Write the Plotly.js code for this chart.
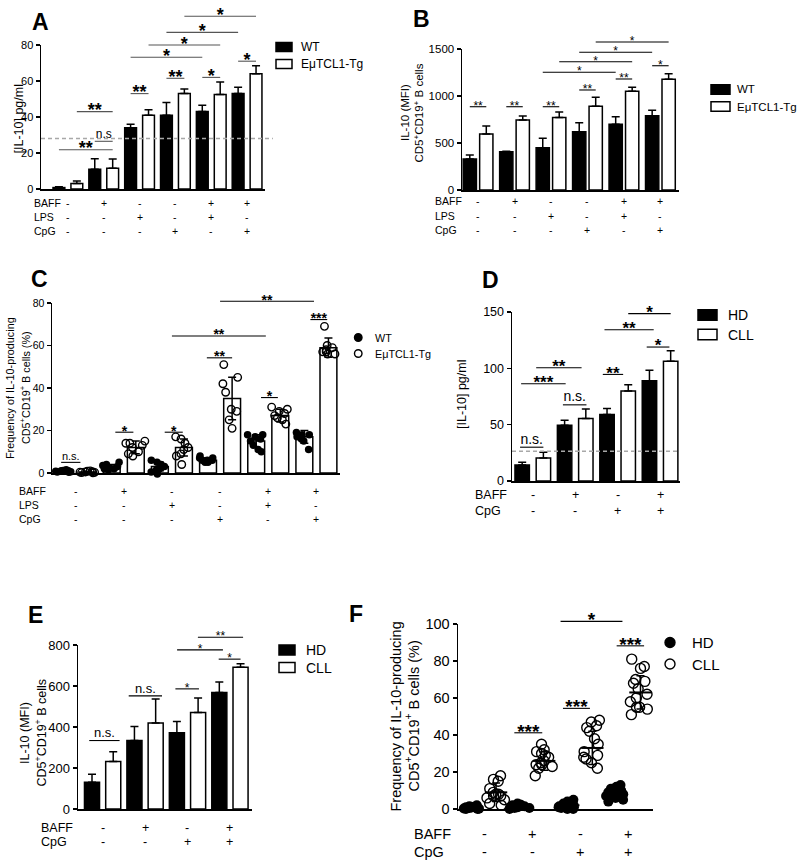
<!DOCTYPE html>
<html><head><meta charset="utf-8">
<script src="https://cdn.plot.ly/plotly-3.0.1.min.js"></script>
<style>html,body{margin:0;padding:0;background:#fff}#chart{width:800px;height:867px}</style>
</head><body><div id="chart"></div>
<script>
// ===================== DATA =====================
const mouseSeries = ['WT', 'EμTCL1-Tg'];
const humanSeries = ['HD', 'CLL'];
const mouseRowLabels = ['BAFF', 'LPS', 'CpG'];
const humanRowLabels = ['BAFF', 'CpG'];
const mouseBAFF = ['-', '+', '-', '-', '+', '+'];
const mouseLPS  = ['-', '-', '+', '-', '+', '-'];
const mouseCpG  = ['-', '-', '-', '+', '-', '+'];
const humanBAFF = ['-', '+', '-', '+'];
const humanCpG  = ['-', '-', '+', '+'];

// Panel A: [IL-10] pg/ml
const A_wt = [0.8, 11, 34, 41, 43, 53];
const A_wtErr = [0.4, 5.8, 2, 7, 3.5, 3.5];
const A_tg = [3, 11.5, 41, 53, 52.5, 64];
const A_tgErr = [1.5, 5.2, 3, 2.5, 7, 4.5];
const A_threshold = 28;
// [from bar, to bar, level, label]
const A_sig = [[0,3,21.8,'**'],[2,3,26.5,'n.s'],[1,3,43,'**'],[4,5,53,'**'],[6,7,61.5,'**'],[8,9,62,'*'],
               [10,11,71,'*'],[4,8,73.2,'*'],[5,9,80,'*'],[6,10,87,'*'],[7,11,96,'*']];

// Panel B: IL-10 MFI
const B_wt = [330, 408, 450, 620, 699, 791];
const B_wtErr = [42, 5, 100, 96, 81, 57];
const B_tg = [596, 745, 770, 890, 1050, 1177];
const B_tgErr = [85, 42, 60, 96, 42, 61];
const B_sig = [[0,1,886,'**'],[2,3,886,'**'],[4,5,886,'**'],[6,7,1064,'**'],[8,9,1181,'**'],[10,11,1322,'*'],
               [4,8,1252,'*'],[5,9,1365,'*'],[6,10,1465,'*'],[7,11,1574,'*']];

// Panel C: frequency of IL-10-producing cells (%)
const C_wt = [1, 3, 3, 6, 15, 17];
const C_wtErr = [0.5, 1, 2, 1, 3, 3];
const C_tg = [0.5, 12, 12, 35, 27, 59];
const C_tgErr = [0.3, 3, 4, 10, 3, 4.5];
const C_wtPts = [[1.5,1.2,1,1,0.8,0.6,0.5,0.3],[5,4,3.5,3,2.5,2,2,1.5],[6,5,4,3,2,1.5,0.5,-0.5],
                 [8,7,7,6,6,6,5,5],[18,18,17,16,15,13,11,10],[19,18,18,17,17,16,15,11]];
const C_tgPts = [[1,0.8,0.6,0.5,0.4,0.3,0.2,0.1],[15,14,14,13,12,10,9,8],[17,16,14,12,11,9,8,4],
                 [51,45,42,38,30,29,25,21],[31,30,29,28,27,26,25,23],[69,60,59,58,57,57,56,56]];
const C_sig = [[-0.1,0.7,5,'n.s.'],[2.15,2.9,19.2,'*'],[4.2,4.95,19.2,'*'],[5.95,7.0,54.2,'**'],
               [8.2,8.9,35.5,'*'],[10.25,10.95,72.2,'***'],[4.5,8.4,64.5,'**'],[6.5,10.4,80.8,'**']];

// Panel D: [IL-10] pg/ml, human
const D_hd = [14.2, 49.5, 59, 89];
const D_hdErr = [2.4, 4.5, 5.4, 9.2];
const D_cll = [20.5, 55.5, 79.8, 106.2];
const D_cllErr = [5, 8.3, 5.6, 9.5];
const D_threshold = 26.3;
const D_sig = [[-0.1,1,30,'n.s.'],[-0.05,2.05,86.3,'***'],[0.66,2.8,100.5,'**'],[1.92,3.03,67.6,'n.s.'],
               [3.8,4.76,94.6,'**'],[3.88,6.2,134.3,'**'],[5,7,148.6,'*'],[5.87,6.94,118.9,'*']];

// Panel E: IL-10 MFI, human
const E_hd = [131, 334, 372, 568];
const E_hdErr = [39, 69, 55, 51];
const E_cll = [232, 420, 471, 692];
const E_cllErr = [47, 116, 70, 16];
const E_sig = [[-0.13,1.3,334,'n.s.'],[1.73,3.3,552,'n.s.'],[3.93,5.04,586,'*'],[4.01,6.17,776,'*'],
               [4.99,7.12,838,'**'],[5.97,7.0,731,'*']];

// Panel F: frequency of IL-10-producing cells (%), human
const F_hdPts = [[2,1.5,1.2,1,1,1,0.8,0.5,0.5,0.3,0.2,0,0],[3,2.5,2,2,2,1.5,1.5,1,1,1,0.5,0.5,0],
                 [5,4,3,3,2.5,2,2,1.5,1,1,0.5,0,0],[13,12,11,10,9,9,8,8,7,7,6,5,4]];
const F_cllPts = [[18,16,15,11,9,8,8,7,7,6,5,3,2],[35,32,31,30,29,28,26,25,24,24,23,22,18],
                  [48,47,45,44,42,38,35,31,29,28,27,25,22],[81,77,76,70,69,68,65,62,60,58,55,55,54,51]];
const F_hdMean = [1, 1.5, 2, 8];
const F_hdSd = [0.6, 0.8, 1.5, 2.8];
const F_cllMean = [9, 26, 33, 63];
const F_cllSd = [5, 5, 9, 9];
const F_sig = [[1.76,2.92,41.2,'***'],[3.78,4.9,54.4,'***'],[6.01,7.15,88.2,'***'],[3.68,6.25,101.4,'*']];

// ===================== LAYOUT HELPERS =====================
const FONT = 'Liberation Sans, Arial, Helvetica, sans-serif';
const W = 800, H = 867;
const geo = {
  A: {id:'',  tw:'7',  x0:41,  x1:265, y0:45,  y1:189, xr:[-0.75,5.5],  yr:[0,80],   off:0.25,  bw:0.33,  ticks:[0,20,40,60,80], tf:11},
  B: {id:'2', tw:'8',  x0:462, x1:679, y0:49,  y1:190, xr:[-0.44,5.51], yr:[0,1500], off:0.226, bw:0.364, ticks:[0,500,1000,1500], tf:11.5},
  C: {id:'3', tw:'9',  x0:52,  x1:340, y0:303, y1:473, xr:[-0.49,5.49], yr:[0,80],   off:0.25,  bw:0.35,  ticks:[0,20,40,60,80], tf:10.5},
  D: {id:'4', tw:'10', x0:512, x1:680, y0:312, y1:481, xr:[-0.49,3.47], yr:[0,150],  off:0.25,  bw:0.34,  ticks:[0,50,100,150], tf:12.5},
  E: {id:'5', tw:'11', x0:78,  x1:252, y0:645, y1:809, xr:[-0.58,3.52], yr:[0,800],  off:0.25,  bw:0.355, ticks:[0,200,400,600,800], tf:13},
  F: {id:'6', tw:'12', x0:458, x1:653, y0:624, y1:809, xr:[-0.54,3.51], yr:[0,100],  off:0.25,  bw:0.3,   ticks:[0,20,40,60,80,100], tf:14.5}
};
const layout = {
  width: W, height: H, margin: {l:0, r:0, t:0, b:0},
  paper_bgcolor: '#fff', plot_bgcolor: 'rgba(0,0,0,0)',
  showlegend: false, barmode: 'overlay', boxmode: 'overlay', boxgap: 0, boxgroupgap: 0,
  font: {family: FONT, color: '#000'}, annotations: [], shapes: []
};
const traces = [];
const px = p => p / W, py = p => 1 - p / H;

function addAxes(k) {
  const g = geo[k];
  layout['xaxis' + g.id] = {domain:[px(g.x0), px(g.x1)], range:g.xr, anchor:'y' + g.id, showline:true,
    linecolor:'#000', linewidth:1.5, ticks:'', showticklabels:false, showgrid:false, zeroline:false, fixedrange:true};
  layout['yaxis' + g.id] = {domain:[py(g.y1), py(g.y0)], range:g.yr, anchor:'x' + g.id, showline:true,
    linecolor:'#000', linewidth:1.5, ticks:'outside', ticklen:4, tickwidth:1.3, tickcolor:'#000',
    tickmode:'array', tickvals:g.ticks, tickfont:{size:g.tf, family:FONT}, showgrid:false, zeroline:false, fixedrange:true};
}
// invisible twin axes with the identical scale but a larger clip area
// (so dots sitting on the axis and brackets above the plot are not cut)
function addTwinAxes(k, padX, padY) {
  const g = geo[k], id = g.tw;
  const ux = (g.x1 - g.x0) / (g.xr[1] - g.xr[0]), uy = (g.y1 - g.y0) / (g.yr[1] - g.yr[0]);
  layout['xaxis' + id] = {domain:[px(g.x0 - padX), px(g.x1 + padX)], range:[g.xr[0] - padX/ux, g.xr[1] + padX/ux],
    anchor:'y' + id, visible:false, fixedrange:true};
  layout['yaxis' + id] = {domain:[py(g.y1 + padY), py(g.y0 - padY)], range:[g.yr[0] - padY/uy, g.yr[1] + padY/uy],
    anchor:'x' + id, visible:false, fixedrange:true};
}
function pos(k, s, i) { return i + (s ? geo[k].off : -geo[k].off); }

function addBars(k, s, vals, errs, fill, oneSided, name) {
  const g = geo[k];
  traces.push({type:'bar', name, x: vals.map((_, i) => pos(k, s, i)), y: vals, width: g.bw,
    xaxis:'x' + g.id, yaxis:'y' + g.id,
    marker:{color: fill, line:{color:'#000', width:1.5}},
    error_y:{type:'data', array: errs, symmetric: !oneSided, arrayminus: oneSided ? errs.map(() => 0) : errs,
      color:'#000', thickness:1.5, width:4},
    hoverinfo:'y'});
}
function addDots(k, s, groups, filled, size, jitter, name) {
  const g = geo[k], x = [], y = [];
  groups.forEach((arr, i) => arr.forEach(v => { x.push(pos(k, s, i)); y.push(v); }));
  traces.push({type:'box', name, x, y, xaxis:'x' + g.tw, yaxis:'y' + g.tw, boxpoints:'all', jitter, pointpos:0,
    fillcolor:'rgba(0,0,0,0)', line:{width:0, color:'rgba(0,0,0,0)'}, whiskerwidth:0, hoveron:'points',
    marker:{symbol: filled ? 'circle' : 'circle-open', color:'#000', size, opacity:1,
      line:{color:'#000', width: filled ? 0 : 1.4}}});
}
function addSig(k, sig, color, starSize, nsSize, bold) {
  const g = geo[k], off = g.off;
  const p = j => Math.floor(j / 2) + (j % 2 === 0 ? -off : off);
  const bx = v => { const lo = Math.floor(v), t = v - lo; return p(lo) * (1 - t) + p(lo + 1) * t; };
  const lx = [], ly = [], sx = [], sy = [], st = [], nx = [], ny = [], nt = [];
  sig.forEach(([a, b, lev, lab]) => {
    lx.push(bx(a), bx(b), null); ly.push(lev, lev, null);
    const m = (bx(a) + bx(b)) / 2;
    if (lab.indexOf('*') >= 0) { sx.push(m); sy.push(lev); st.push(lab); }
    else { nx.push(m); ny.push(lev); nt.push(lab); }
  });
  const ax = {xaxis:'x' + g.tw, yaxis:'y' + g.tw, cliponaxis:false, hoverinfo:'skip'};
  traces.push(Object.assign({type:'scatter', mode:'lines', x:lx, y:ly, line:{color, width:1.1}}, ax));
  if (sx.length) traces.push(Object.assign({type:'scatter', mode:'text', x:sx, y:sy, text:st, textposition:'middle center',
    textfont:{size:starSize, family:FONT, color:'#000', weight: bold ? 'bold' : 'normal'}}, ax));
  if (nx.length) traces.push(Object.assign({type:'scatter', mode:'text', x:nx, y:ny, text:nt, textposition:'top center',
    textfont:{size:nsSize, family:FONT, color:'#000'}}, ax));
}
function addThreshold(k, level, extend) {
  const g = geo[k];
  traces.push({type:'scatter', mode:'lines', x:[g.xr[0], g.xr[1] + extend], y:[level, level],
    xaxis:'x' + g.tw, yaxis:'y' + g.tw, cliponaxis:false, hoverinfo:'skip',
    line:{color:'#a8a8a8', width:1.5, dash:'4px,3px'}});
}
function addTable(k, rows, labels, rowY, labelX, size) {
  const g = geo[k];
  rows.forEach((row, r) => {
    layout.annotations.push({xref:'paper', yref:'paper', x:px(labelX), y:py(rowY[r]), text:labels[r],
      showarrow:false, xanchor:'left', yanchor:'middle', font:{size, family:FONT}});
    row.forEach((t, i) => layout.annotations.push({xref:'x' + g.id, yref:'paper', x:i, y:py(rowY[r]), text:t,
      showarrow:false, xanchor:'center', yanchor:'middle', font:{size, family:FONT}}));
  });
}
function addYTitle(lines, xs, yc, size) {
  lines.forEach((t, i) => layout.annotations.push({xref:'paper', yref:'paper', x:px(xs[i]), y:py(yc), text:t,
    textangle:-90, showarrow:false, xanchor:'center', yanchor:'middle', font:{size, family:FONT}}));
}
function addLetter(t, x, y) {
  layout.annotations.push({xref:'paper', yref:'paper', x:px(x), y:py(y), text:'<b>' + t + '</b>', showarrow:false,
    xanchor:'left', yanchor:'middle', font:{size:23, family:FONT}});
}
function addLegend(names, kind, x0, x1, ys, hgt, textX, size) {
  names.forEach((n, i) => {
    const fill = i === 0 ? '#000' : '#fff';
    layout.shapes.push({type: kind === 'bar' ? 'rect' : 'circle', xref:'paper', yref:'paper',
      x0:px(x0), x1:px(x1), y0:py(ys[i] + hgt / 2), y1:py(ys[i] - hgt / 2),
      fillcolor:fill, line:{color:'#000', width: kind === 'bar' ? 1.5 : 1.4}});
    layout.annotations.push({xref:'paper', yref:'paper', x:px(textX), y:py(ys[i]), text:n, showarrow:false,
      xanchor:'left', yanchor:'middle', font:{size, family:FONT}});
  });
}

// ===================== BUILD =====================
['A','B','C','D','E','F'].forEach(addAxes);
['A','B','C','D','E','F'].forEach(k => addTwinAxes(k, 20, 44));

// A
addBars('A', 0, A_wt, A_wtErr, '#000', true, mouseSeries[0]);
addBars('A', 1, A_tg, A_tgErr, '#fff', true, mouseSeries[1]);
addThreshold('A', A_threshold, 0.22);
addSig('A', A_sig, '#555', 18, 12, true);
addTable('A', [mouseBAFF, mouseLPS, mouseCpG], mouseRowLabels, [202.5, 217, 231], 31.5, 10.5);
addYTitle(['[IL-10] pg/ml'], [18.5], 119, 12.5);
addLetter('A', 30, 22);
addLegend(mouseSeries, 'bar', 276, 292, [47, 64], 9, 299, 12);

// B
addBars('B', 0, B_wt, B_wtErr, '#000', true, mouseSeries[0]);
addBars('B', 1, B_tg, B_tgErr, '#fff', true, mouseSeries[1]);
addSig('B', B_sig, '#000', 12, 11, false);
addTable('B', [mouseBAFF, mouseLPS, mouseCpG], mouseRowLabels, [201.5, 216, 230], 433, 10.5);
addYTitle(['IL-10 (MFI)', 'CD5<sup>+</sup>CD19<sup>+</sup> B cells'], [405, 418.5], 113, 11.5);
addLetter('B', 411, 19);
addLegend(mouseSeries, 'bar', 711, 730, [89.5, 106.5], 9.5, 735, 11.5);

// C
addBars('C', 0, C_wt, C_wtErr, '#fff', false, mouseSeries[0]);
addBars('C', 1, C_tg, C_tgErr, '#fff', false, mouseSeries[1]);
addDots('C', 0, C_wtPts, true, 7.5, 0.85, mouseSeries[0]);
addDots('C', 1, C_tgPts, false, 7.5, 0.85, mouseSeries[1]);
addSig('C', C_sig, '#000', 14, 11, true);
addTable('C', [mouseBAFF, mouseLPS, mouseCpG], mouseRowLabels, [491.5, 505, 518.5], 17, 10.5);
addYTitle(['Frequency of IL-10-producing', 'CD5<sup>+</sup>CD19<sup>+</sup> B cells (%)'], [10, 25], 388, 10.8);
addLetter('C', 29, 279);
addLegend(mouseSeries, 'dot', 354.5, 362, [337.5, 353.5], 7.5, 372.5, 10.8);

// D
addBars('D', 0, D_hd, D_hdErr, '#000', true, humanSeries[0]);
addBars('D', 1, D_cll, D_cllErr, '#fff', true, humanSeries[1]);
addThreshold('D', D_threshold, 0);
addSig('D', D_sig, '#000', 17, 14, true);
addTable('D', [humanBAFF, humanCpG], humanRowLabels, [494.5, 511], 473, 12.5);
addYTitle(['[IL-10] pg/ml'], [462], 395, 12.5);
addLetter('D', 480, 280);
addLegend(humanSeries, 'bar', 698, 717, [315, 334.5], 10.5, 726, 14);

// E
addBars('E', 0, E_hd, E_hdErr, '#000', true, humanSeries[0]);
addBars('E', 1, E_cll, E_cllErr, '#fff', true, humanSeries[1]);
addSig('E', E_sig, '#000', 12, 13, false);
addTable('E', [humanBAFF, humanCpG], humanRowLabels, [827.5, 842], 39, 12.5);
addYTitle(['IL-10 (MFI)', 'CD5<sup>+</sup>CD19<sup>+</sup> B cells'], [25, 40.5], 733, 12.5);
addLetter('E', 26, 615);
addLegend(humanSeries, 'bar', 279, 295, [650, 667.5], 10, 304, 14);

// F
addDots('F', 0, F_hdPts, true, 10, 0.9, humanSeries[0]);
addDots('F', 1, F_cllPts, false, 10, 0.9, humanSeries[1]);
traces.push({type:'scatter', mode:'markers', name:'mean ± SD',
  x: F_hdMean.map((_, i) => pos('F', 0, i)).concat(F_cllMean.map((_, i) => pos('F', 1, i))),
  y: F_hdMean.concat(F_cllMean), xaxis:'x' + geo.F.tw, yaxis:'y' + geo.F.tw, cliponaxis:false, hoverinfo:'y',
  marker:{symbol:'line-ew-open', size:16, color:'#000', line:{width:2, color:'#000'}},
  error_y:{type:'data', array: F_hdSd.concat(F_cllSd), color:'#000', thickness:1.5, width:4}});
addSig('F', F_sig, '#000', 19, 13, true);
addTable('F', [humanBAFF, humanCpG], humanRowLabels, [833.5, 851.5], 411.5, 14.5);
addYTitle(['Frequency of IL-10-producing', 'CD5<sup>+</sup>CD19<sup>+</sup> B cells (%)'], [395, 412], 716.5, 14.5);
addLetter('F', 347, 613.5);
addLegend(humanSeries, 'dot', 665, 675, [642.5, 664], 10, 690, 15);

Plotly.newPlot('chart', traces, layout, {displayModeBar:false, staticPlot:true});
</script>
</body></html>
